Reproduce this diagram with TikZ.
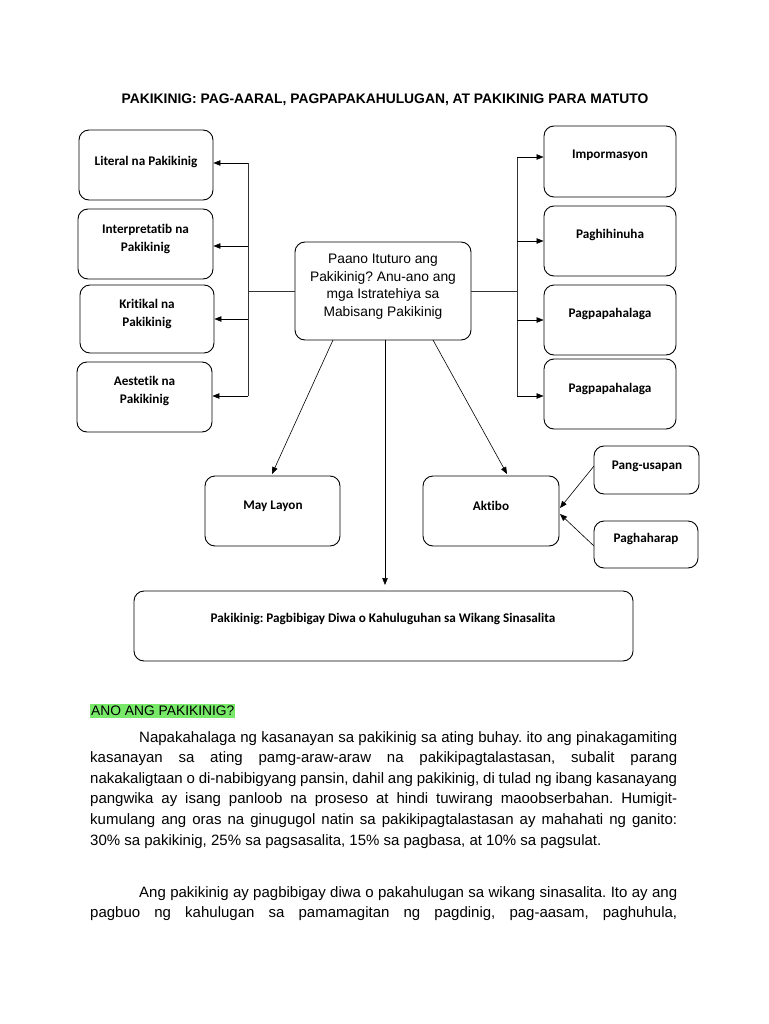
\documentclass[tikz,border=0pt]{standalone}
\usepackage{fontspec}
\setmainfont{Liberation Sans}
\newfontfamily\calfont[Ligatures=NoCommon]{Carlito}
\usetikzlibrary{arrows.meta}
\definecolor{hlgreen}{RGB}{120,232,104}
\frenchspacing
\begin{document}
\begin{tikzpicture}[x=1pt,y=-1pt,
  box/.style={draw, line width=0.9pt, rounded corners=10pt, inner sep=0pt},
  lbl/.style={font=\calfont\bfseries\fontsize{13.2}{18}\selectfont, align=center, inner sep=0pt},
  ctr/.style={font=\fontsize{13.8}{17.5}\selectfont, align=center, inner sep=0pt},
  body/.style={font=\fontsize{15}{18}\selectfont, anchor=base west, inner sep=0pt},
  ln/.style={line width=0.6pt, draw=black!80},
  arr/.style={line width=0.6pt, -{Triangle[length=7pt,width=5.5pt]}},
]
\useasboundingbox (0,0) rectangle (768,1024);

% title
\node[font=\bfseries\fontsize{13.85}{16}\selectfont, inner sep=0pt] (title) at (385,100)
  {PAKIKINIG: PAG-AARAL, PAGPAPAKAHULUGAN, AT PAKIKINIG PARA MATUTO};

% center box
\node[box, minimum width=176pt, minimum height=98pt] (c) at (383,291) {};
\node[ctr] (ct) at (383,286.5) {Paano Ituturo ang\\Pakikinig? Anu-ano ang\\mga Istratehiya sa\\Mabisang Pakikinig};

% left boxes
\node[box, minimum width=134pt, minimum height=70pt] (l1) at (146,165) {};
\node[box, minimum width=135pt, minimum height=70pt] (l2) at (145.5,244) {};
\node[box, minimum width=134pt, minimum height=68pt] (l3) at (147,319) {};
\node[box, minimum width=135pt, minimum height=70pt] (l4) at (144.5,397) {};
\node[lbl] (l1t) at (146,162) {Literal na Pakikinig};
\node[lbl] (l2t) at (145.5,239) {Interpretatib na\\Pakikinig};
\node[lbl] (l3t) at (147,313.5) {Kritikal na\\Pakikinig};
\node[lbl] (l4t) at (144.5,390.5) {Aestetik na\\Pakikinig};

% right boxes
\node[box, minimum width=132pt, minimum height=71pt] (r1) at (610,161.5) {};
\node[box, minimum width=132pt, minimum height=70pt] (r2) at (610,241) {};
\node[box, minimum width=132pt, minimum height=70pt] (r3) at (610,320) {};
\node[box, minimum width=132pt, minimum height=70pt] (r4) at (610,394) {};
\node[lbl] (r1t) at (610,155) {Impormasyon};
\node[lbl] (r2t) at (610,235) {Paghihinuha};
\node[lbl] (r3t) at (610,314) {Pagpapahalaga};
\node[lbl] (r4t) at (610,389) {Pagpapahalaga};

% lower boxes
\node[box, minimum width=135pt, minimum height=70pt] (ml) at (272.5,511) {};
\node[box, minimum width=136pt, minimum height=70pt] (ak) at (491,511) {};
\node[box, minimum width=105pt, minimum height=48pt] (pu) at (646.5,470) {};
\node[box, minimum width=104pt, minimum height=47pt] (ph) at (646,544.5) {};
\node[box, minimum width=499pt, minimum height=70pt] (bg) at (383.5,626) {};
\node[lbl] (mlt) at (273,506) {May Layon};
\node[lbl] (akt) at (491,506) {Aktibo};
\node[lbl] (put) at (647,466) {Pang-usapan};
\node[lbl] (pht) at (646,539) {Paghaharap};
\node[lbl] (bgt) at (383,619) {Pakikinig: Pagbibigay Diwa o Kahuluguhan sa Wikang Sinasalita};

% left connectors
\coordinate (lj) at (248,291);
\coordinate (la) at (248,163);
\coordinate (lb) at (248,246);
\coordinate (lc) at (248,319);
\coordinate (ld) at (248,396);
\draw[ln] (c.west) -- (lj);
\draw[ln] (la) -- (ld);
\draw[arr] (la) -- (l1.east |- la);
\draw[arr] (lb) -- (l2.east |- lb);
\draw[arr] (lc) -- (l3.east |- lc);
\draw[arr] (ld) -- (l4.east |- ld);

% right connectors
\coordinate (rj) at (517,291);
\coordinate (ra) at (517,157);
\coordinate (rb) at (517,241);
\coordinate (rc) at (517,320);
\coordinate (rd) at (517,396);
\draw[ln] (c.east) -- (rj);
\draw[ln] (ra) -- (rd);
\draw[arr] (ra) -- (r1.west |- ra);
\draw[arr] (rb) -- (r2.west |- rb);
\draw[arr] (rc) -- (r3.west |- rc);
\draw[arr] (rd) -- (r4.west |- rd);

% downward connectors
\coordinate (cs1) at (333,340);
\coordinate (cs2) at (433,340);
\coordinate (cs3) at (385,340);
\coordinate (me) at (272,474);
\coordinate (ae) at (507,474);
\coordinate (be) at (385,585);
\draw[arr] (cs1) -- (me);
\draw[arr] (cs2) -- (ae);
\draw[arr] (cs3) -- (be);
\coordinate (pus) at (594,466);
\coordinate (phs) at (594,546);
\coordinate (ak1) at (560,508);
\coordinate (ak2) at (560,514);
\draw[arr] (pus) -- (ak1);
\draw[arr] (phs) -- (ak2);

% heading
\node[fill=hlgreen, font=\fontsize{13.8}{16}\selectfont, inner xsep=1pt, inner ysep=2.5pt, anchor=west] (hd) at (90,711) {ANO ANG PAKIKINIG?};

% paragraph 1
\node[body] (p1) at (139,742) {\makebox[538pt][s]{Napakahalaga ng kasanayan sa pakikinig sa ating buhay. ito ang pinakagamiting}};
\node[body] (p2) at (90,762.6) {\makebox[587pt][s]{kasanayan sa ating pamg-araw-araw na pakikipagtalastasan, subalit parang}};
\node[body] (p3) at (90,783.3) {\makebox[587pt][s]{nakakaligtaan o di-nabibigyang pansin, dahil ang pakikinig, di tulad ng ibang kasanayang}};
\node[body] (p4) at (90,803.9) {\makebox[587pt][s]{pangwika ay isang panloob na proseso at hindi tuwirang maoobserbahan. Humigit-}};
\node[body] (p5) at (90,824.5) {\makebox[587pt][s]{kumulang ang oras na ginugugol natin sa pakikipagtalastasan ay mahahati ng ganito:}};
\node[body] (p6) at (90,845.2) {30\% sa pakikinig, 25\% sa pagsasalita, 15\% sa pagbasa, at 10\% sa pagsulat.};

% paragraph 2
\node[body] (q1) at (139,897) {\makebox[538pt][s]{Ang pakikinig ay pagbibigay diwa o pakahulugan sa wikang sinasalita. Ito ay ang}};
\node[body] (q2) at (90,917.6) {\makebox[587pt][s]{pagbuo ng kahulugan sa pamamagitan ng pagdinig, pag-aasam, paghuhula,}};
\end{tikzpicture}
\end{document}
